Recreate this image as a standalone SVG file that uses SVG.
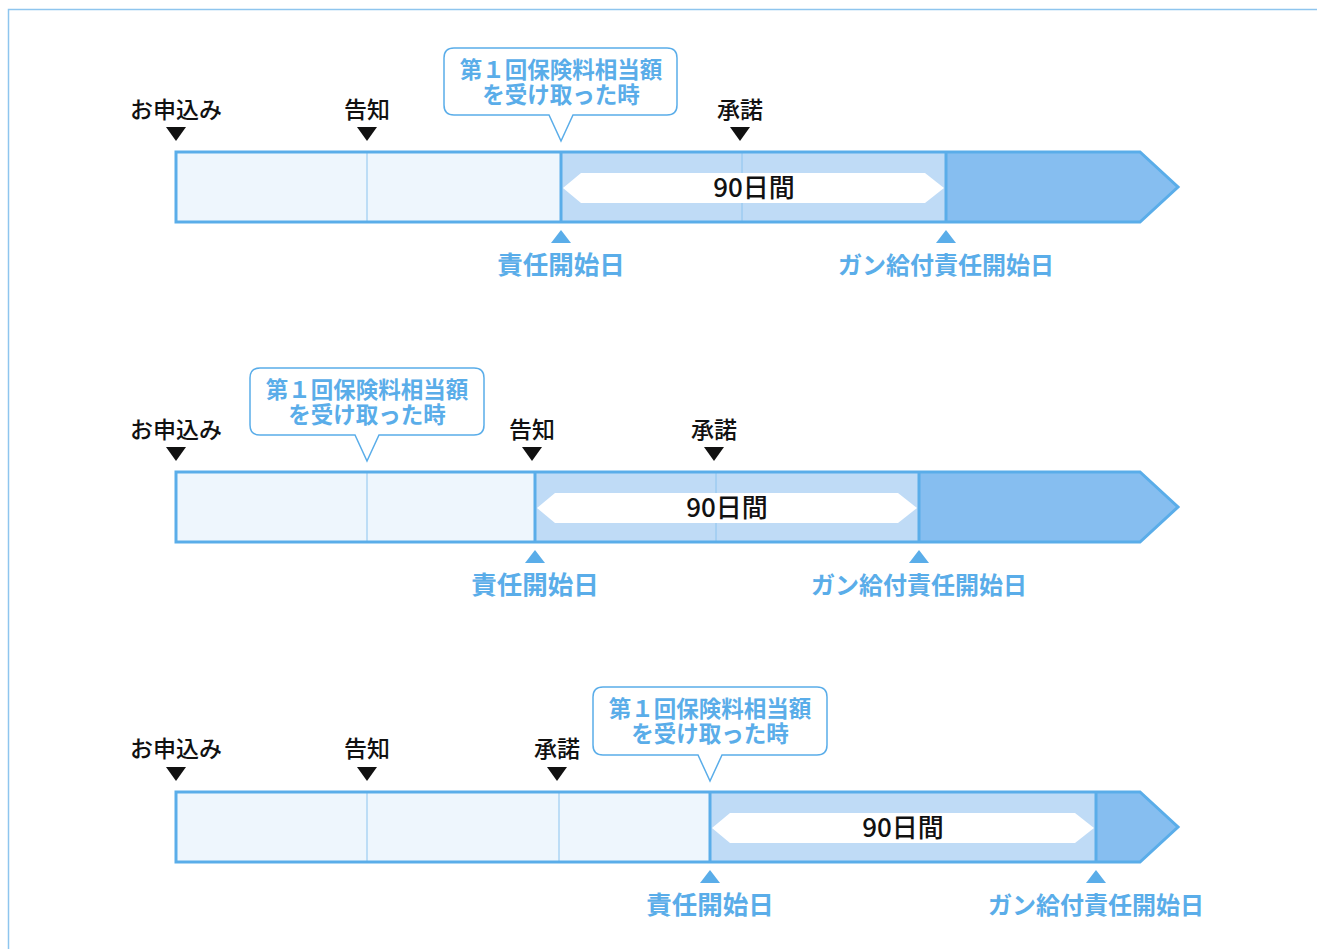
<svg xmlns="http://www.w3.org/2000/svg" width="1317" height="949" viewBox="0 0 1317 949">
<style>
.frame{fill:#fff;stroke:#8ec5ee;stroke-width:1.5}
.outline{fill:none;stroke:#5aade9;stroke-width:3;stroke-linejoin:miter}
.seg1{fill:#eef6fd}
.seg2{fill:#bfdbf6}
.seg3{fill:#86bef0}
.thin{stroke:#8cc4ef;stroke-width:1}
.thick{stroke:#5aade9;stroke-width:3}
.dbl{fill:#fff}
.lbl{font-family:"Noto Sans CJK JP","Noto Sans",sans-serif;font-size:23px;font-weight:500;fill:#111;text-anchor:middle}
.blbl{font-family:"Noto Sans CJK JP","Noto Sans",sans-serif;font-size:25.5px;font-weight:600;fill:#5aade9;text-anchor:middle}
.blbl2{font-family:"Noto Sans CJK JP","Noto Sans",sans-serif;font-size:24px;font-weight:600;fill:#5aade9;text-anchor:middle}
.ctext{font-family:"Noto Sans CJK JP","Noto Sans",sans-serif;font-size:22.5px;font-weight:600;fill:#5aade9;text-anchor:middle}
.days{font-family:"Noto Sans CJK JP","Noto Sans",sans-serif;font-size:26px;font-weight:500;fill:#111;text-anchor:middle}
.callout{fill:#fff;stroke:#5aade9;stroke-width:1.5}
.down{fill:#111}
.up{fill:#5aade9}
</style>
<rect class="frame" x="8.5" y="9.5" width="1330" height="960"/>

<!-- Timeline 1 -->
<g id="timeline1">
  <g id="t1-bar">
    <rect class="seg1" x="176" y="152" width="385" height="70"/>
    <rect class="seg2" x="561" y="152" width="385" height="70"/>
    <polygon class="seg3" points="946,152 1140,152 1178,187 1140,222 946,222"/>
    <line class="thin" x1="367" y1="152" x2="367" y2="222"/>
    <line class="thin" x1="742" y1="152" x2="742" y2="222"/>
    <polygon class="dbl" points="563,188 581,173 925,173 944,188 925,203 581,203"/>
    <line class="thick" x1="561" y1="152" x2="561" y2="222"/>
    <line class="thick" x1="946" y1="152" x2="946" y2="222"/>
    <path class="outline" d="M176,152 H1140 L1178,187 L1140,222 H176 Z"/>
  </g>
  <g id="t1-days"><text class="days" x="754" y="197">90日間</text></g>
  <g id="t1-apply"><text class="lbl" x="176" y="118">お申込み</text><polygon class="down" points="166,127 186,127 176,141"/></g>
  <g id="t1-notice"><text class="lbl" x="367" y="118">告知</text><polygon class="down" points="357,127 377,127 367,141"/></g>
  <g id="t1-accept"><text class="lbl" x="740" y="118">承諾</text><polygon class="down" points="730,127 750,127 740,141"/></g>
  <g id="t1-payment">
    <path class="callout" d="M454,48 H667 Q677,48 677,58 V105 Q677,115 667,115 H573 L561,141 L549,115 H454 Q444,115 444,105 V58 Q444,48 454,48 Z"/>
    <text class="ctext" x="561" y="78">第１回保険料相当額</text>
    <text class="ctext" x="561" y="103">を受け取った時</text>
  </g>
  <g id="t1-start"><polygon class="up" points="551,243 571,243 561,230"/><text class="blbl" x="561" y="274">責任開始日</text></g>
  <g id="t1-cancer"><polygon class="up" points="936,243 956,243 946,230"/><text class="blbl2" x="946" y="274">ガン給付責任開始日</text></g>
</g>

<!-- Timeline 2 -->
<g id="timeline2">
  <g id="t2-bar">
    <rect class="seg1" x="176" y="472" width="359" height="70"/>
    <rect class="seg2" x="535" y="472" width="384" height="70"/>
    <polygon class="seg3" points="919,472 1140,472 1178,507 1140,542 919,542"/>
    <line class="thin" x1="367" y1="472" x2="367" y2="542"/>
    <line class="thin" x1="716" y1="472" x2="716" y2="542"/>
    <polygon class="dbl" points="537,508 555,493 898,493 917,508 898,523 555,523"/>
    <line class="thick" x1="535" y1="472" x2="535" y2="542"/>
    <line class="thick" x1="919" y1="472" x2="919" y2="542"/>
    <path class="outline" d="M176,472 H1140 L1178,507 L1140,542 H176 Z"/>
  </g>
  <g id="t2-days"><text class="days" x="727" y="517">90日間</text></g>
  <g id="t2-apply"><text class="lbl" x="176" y="438">お申込み</text><polygon class="down" points="166,447 186,447 176,461"/></g>
  <g id="t2-notice"><text class="lbl" x="532" y="438">告知</text><polygon class="down" points="522,447 542,447 532,461"/></g>
  <g id="t2-accept"><text class="lbl" x="714" y="438">承諾</text><polygon class="down" points="704,447 724,447 714,461"/></g>
  <g id="t2-payment">
    <path class="callout" d="M260,368 H474 Q484,368 484,378 V425 Q484,435 474,435 H379 L367,461 L355,435 H260 Q250,435 250,425 V378 Q250,368 260,368 Z"/>
    <text class="ctext" x="367" y="398">第１回保険料相当額</text>
    <text class="ctext" x="367" y="423">を受け取った時</text>
  </g>
  <g id="t2-start"><polygon class="up" points="525,563 545,563 535,550"/><text class="blbl" x="535" y="594">責任開始日</text></g>
  <g id="t2-cancer"><polygon class="up" points="909,563 929,563 919,550"/><text class="blbl2" x="919" y="594">ガン給付責任開始日</text></g>
</g>

<!-- Timeline 3 -->
<g id="timeline3">
  <g id="t3-bar">
    <rect class="seg1" x="176" y="792" width="534" height="70"/>
    <rect class="seg2" x="710" y="792" width="386" height="70"/>
    <polygon class="seg3" points="1096,792 1140,792 1178,827 1140,862 1096,862"/>
    <line class="thin" x1="367" y1="792" x2="367" y2="862"/>
    <line class="thin" x1="559" y1="792" x2="559" y2="862"/>
    <polygon class="dbl" points="712,828 730,813 1075,813 1094,828 1075,843 730,843"/>
    <line class="thick" x1="710" y1="792" x2="710" y2="862"/>
    <line class="thick" x1="1096" y1="792" x2="1096" y2="862"/>
    <path class="outline" d="M176,792 H1140 L1178,827 L1140,862 H176 Z"/>
  </g>
  <g id="t3-days"><text class="days" x="903" y="837">90日間</text></g>
  <g id="t3-apply"><text class="lbl" x="176" y="757">お申込み</text><polygon class="down" points="166,767 186,767 176,781"/></g>
  <g id="t3-notice"><text class="lbl" x="367" y="757">告知</text><polygon class="down" points="357,767 377,767 367,781"/></g>
  <g id="t3-accept"><text class="lbl" x="557" y="757">承諾</text><polygon class="down" points="547,767 567,767 557,781"/></g>
  <g id="t3-payment">
    <path class="callout" d="M603,687 H817 Q827,687 827,697 V745 Q827,755 817,755 H722 L710,781 L698,755 H603 Q593,755 593,745 V697 Q593,687 603,687 Z"/>
    <text class="ctext" x="710" y="717">第１回保険料相当額</text>
    <text class="ctext" x="710" y="742">を受け取った時</text>
  </g>
  <g id="t3-start"><polygon class="up" points="700,883 720,883 710,870"/><text class="blbl" x="710" y="914">責任開始日</text></g>
  <g id="t3-cancer"><polygon class="up" points="1086,883 1106,883 1096,870"/><text class="blbl2" x="1096" y="914">ガン給付責任開始日</text></g>
</g>
</svg>
